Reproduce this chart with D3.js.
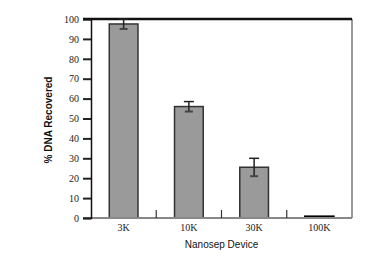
<!DOCTYPE html>
<html><head><meta charset="utf-8">
<script src="https://cdn.jsdelivr.net/npm/d3@7"></script>
<style>body{margin:0;background:#fff}</style>
</head><body>
<svg id="c" width="378" height="270"></svg>
<script>
const categories = ["3K", "10K", "30K", "100K"];
const values = [97.5, 56, 25.5, 0.8];
const errors = [2.5, 2.5, 4.5, 0];
const yTicks = [0, 10, 20, 30, 40, 50, 60, 70, 80, 90, 100];

const svg = d3.select("#c");
const L = 91, R = 352, T = 19, B = 218;
const x = d3.scaleBand().domain(categories).range([L, R]).paddingInner(0.56).paddingOuter(0.28);
const y = d3.scaleLinear().domain([0, 100]).range([B, T]);

// frame: right grey, bottom grey
svg.append("line").attr("x1", R).attr("x2", R).attr("y1", T).attr("y2", B).attr("stroke", "#777").attr("stroke-width", 1.5);
// bars
svg.selectAll("rect.bar").data(values).join("rect")
  .attr("x", (d, i) => x(categories[i]))
  .attr("y", d => y(d))
  .attr("width", x.bandwidth())
  .attr("height", d => B - y(d))
  .attr("fill", "#9a9a9a")
  .attr("stroke", (d, i) => i === 3 ? "#000" : "#333")
  .attr("stroke-width", (d, i) => i === 3 ? 2 : 1.5);

// bottom axis
const xa = svg.append("g").attr("transform", `translate(0,${B})`)
  .call(d3.axisBottom(x).tickSize(0).tickPadding(6));
xa.select(".domain").remove();
xa.selectAll("text").attr("font-family", "Liberation Serif, Times New Roman, serif").attr("font-size", 10).attr("fill", "#222");
svg.append("line").attr("x1", 83).attr("x2", R).attr("y1", B).attr("y2", B).attr("stroke", "#888").attr("stroke-width", 2);
// inner ticks between categories
const bounds = categories.slice(1).map(c => x(c) - x.step() * x.paddingInner() / 2);
svg.selectAll("line.xt").data(bounds).join("line")
  .attr("x1", d => d).attr("x2", d => d).attr("y1", B).attr("y2", B - 8)
  .attr("stroke", "#333").attr("stroke-width", 1.2);

// left axis
const ya = svg.append("g").attr("transform", `translate(${L},0)`)
  .call(d3.axisLeft(y).tickValues(yTicks).tickSize(8).tickPadding(4));
ya.select(".domain").attr("stroke", "#111").attr("stroke-width", 1.5);
ya.selectAll(".tick line").attr("stroke", "#222").attr("stroke-width", 2);
ya.selectAll("text").attr("font-family", "Liberation Serif, Times New Roman, serif").attr("font-size", 10).attr("fill", "#222");

// top border
svg.append("line").attr("x1", 83).attr("x2", R).attr("y1", T).attr("y2", T).attr("stroke", "#111").attr("stroke-width", 2.5);

// error bars
const eb = svg.selectAll("g.eb").data(values.map((v, i) => ({v, e: errors[i], c: categories[i]})).filter(d => d.e > 0)).join("g");
eb.append("line").attr("x1", d => x(d.c) + x.bandwidth() / 2).attr("x2", d => x(d.c) + x.bandwidth() / 2)
  .attr("y1", d => y(d.v + d.e)).attr("y2", d => y(d.v - d.e)).attr("stroke", "#222").attr("stroke-width", 1.5);
eb.append("line").attr("x1", d => x(d.c) + x.bandwidth() / 2 - 5).attr("x2", d => x(d.c) + x.bandwidth() / 2 + 5)
  .attr("y1", d => y(d.v + d.e)).attr("y2", d => y(d.v + d.e)).attr("stroke", "#222").attr("stroke-width", 1.5);
eb.append("line").attr("x1", d => x(d.c) + x.bandwidth() / 2 - 4).attr("x2", d => x(d.c) + x.bandwidth() / 2 + 4)
  .attr("y1", d => y(d.v - d.e)).attr("y2", d => y(d.v - d.e)).attr("stroke", "#444").attr("stroke-width", 2);

// axis titles
svg.append("text").attr("x", (L + R) / 2).attr("y", 248).attr("text-anchor", "middle")
  .attr("font-family", "Liberation Sans Narrow, Arial Narrow, Liberation Sans, sans-serif").attr("font-size", 10).attr("fill", "#111")
  .text("Nanosep Device");
svg.append("text").attr("transform", "translate(52,120) rotate(-90)").attr("text-anchor", "middle")
  .attr("font-family", "Liberation Sans Narrow, Arial Narrow, Liberation Sans, sans-serif").attr("font-size", 10).attr("font-weight", "bold").attr("fill", "#111")
  .text("% DNA Recovered");
</script>
</body></html>
